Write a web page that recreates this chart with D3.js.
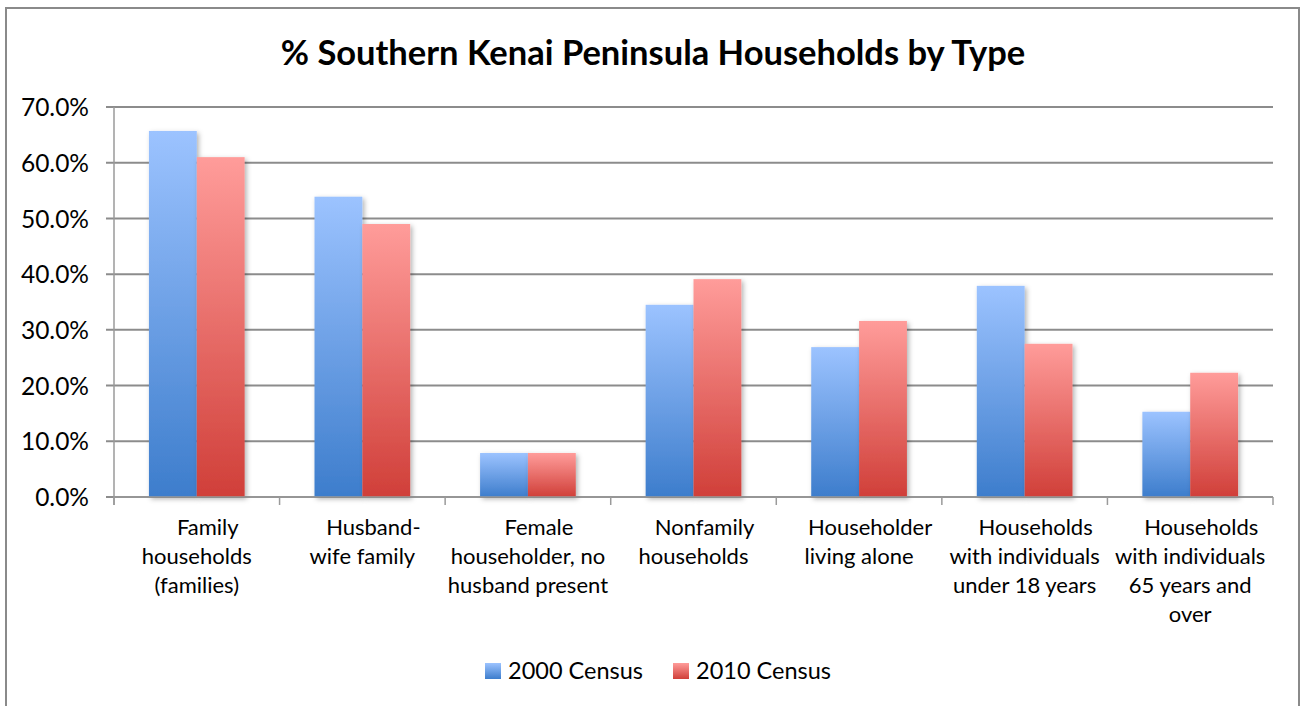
<!DOCTYPE html>
<html>
<head>
<meta charset="utf-8">
<script src="https://cdn.jsdelivr.net/npm/d3@7"></script>
<style>
  html, body { margin: 0; padding: 0; background: #fff; }
  svg { display: block; }
  text { font-family: Lato, "Open Sans", sans-serif; fill: #000; }
</style>
</head>
<body>
<svg id="chart" width="1300" height="706"></svg>
<script>
// Household type categories (each entry is a list of wrapped label lines)
const categories = [
  ["Family", "households", "(families)"],
  ["Husband-", "wife family"],
  ["Female", "householder, no", "husband present"],
  ["Nonfamily", "households"],
  ["Householder", "living alone"],
  ["Households", "with individuals", "under 18 years"],
  ["Households", "with individuals", "65 years and", "over"]
];
const seriesNames = ["2000 Census", "2010 Census"];
const census2000 = [65.7, 53.9, 7.9, 34.5, 26.9, 37.9, 15.3];
const census2010 = [61.0, 49.0, 7.9, 39.1, 31.6, 27.5, 22.3];
const yTicks = [0, 10, 20, 30, 40, 50, 60, 70];

const svg = d3.select("#chart");
const plot = { left: 114, right: 1273, top: 107, bottom: 497 };

// Gradients and drop shadow
const defs = svg.append("defs");
const grads = [
  { id: "g2000", top: "#9cc3ff", bottom: "#3d7dcc" },
  { id: "g2010", top: "#ff9c9a", bottom: "#d03f39" }
];
grads.forEach(g => {
  const lg = defs.append("linearGradient").attr("id", g.id)
    .attr("x1", 0).attr("y1", 0).attr("x2", 0).attr("y2", 1);
  lg.append("stop").attr("offset", "0%").attr("stop-color", g.top);
  lg.append("stop").attr("offset", "100%").attr("stop-color", g.bottom);
});
const f = defs.append("filter").attr("id", "shadow")
  .attr("x", "-20%").attr("y", "-20%").attr("width", "150%").attr("height", "150%");
f.append("feDropShadow").attr("dx", 2).attr("dy", 2).attr("stdDeviation", 2.5)
  .attr("flood-color", "#000").attr("flood-opacity", 0.3);

// Outer chart border
svg.append("rect").attr("x", 6).attr("y", 8).attr("width", 1293).attr("height", 720)
  .attr("fill", "none").attr("stroke", "#8a8a8a").attr("stroke-width", 2);

// Title
svg.append("text").attr("x", 653).attr("y", 65).attr("text-anchor", "middle")
  .style("font-weight", "bold").style("font-size", "34.5px")
  .text("% Southern Kenai Peninsula Households by Type");

// Scales
const y = d3.scaleLinear().domain([0, 70]).range([plot.bottom, plot.top]);
const x0 = d3.scaleBand().domain(d3.range(categories.length))
  .range([plot.left, plot.right]).paddingInner(0).paddingOuter(0);
const bw = x0.bandwidth();
const x1 = d3.scaleBand().domain([0, 1]).range([0, bw]).paddingInner(0).paddingOuter(0.73);

// Gridlines
svg.append("g").selectAll("line").data(yTicks).join("line")
  .attr("x1", plot.left - 8).attr("x2", plot.right)
  .attr("y1", d => y(d)).attr("y2", d => y(d))
  .attr("stroke", "#8c8c8c").attr("stroke-width", 2);

// Y axis labels
const yAxis = d3.axisLeft(y).tickValues(yTicks).tickSize(0).tickPadding(0)
  .tickFormat(d => d.toFixed(1) + "%");
const yg = svg.append("g").attr("transform", `translate(${plot.left - 25},0)`).call(yAxis);
yg.select(".domain").remove();
yg.selectAll("text").style("font-size", "24.5px").style("font-family", "Lato, sans-serif")
  .attr("fill", "#000").attr("dy", "0.35em");

// Y axis line
svg.append("line").attr("x1", plot.left).attr("x2", plot.left)
  .attr("y1", plot.top).attr("y2", plot.bottom + 8)
  .attr("stroke", "#9a9a9a").attr("stroke-width", 1.5);

// Bars
const series = [census2000, census2010];
const barG = svg.append("g");
categories.forEach((c, i) => {
  series.forEach((vals, s) => {
    barG.append("rect")
      .attr("x", x0(i) + x1(s))
      .attr("y", y(vals[i]))
      .attr("width", x1.bandwidth())
      .attr("height", y(0) - y(vals[i]))
      .attr("fill", `url(#${grads[s].id})`)
      .attr("filter", "url(#shadow)");
  });
});

// X axis line and category ticks
const xg = svg.append("g");
xg.append("line").attr("x1", plot.left).attr("x2", plot.right)
  .attr("y1", plot.bottom).attr("y2", plot.bottom)
  .attr("stroke", "#9a9a9a").attr("stroke-width", 1.5);
xg.selectAll("line.tick").data(d3.range(categories.length + 1)).join("line")
  .attr("class", "tick")
  .attr("x1", d => plot.left + d * bw).attr("x2", d => plot.left + d * bw)
  .attr("y1", plot.bottom).attr("y2", plot.bottom + 8)
  .attr("stroke", "#9a9a9a").attr("stroke-width", 1.5);

// Category labels: first wrapped line sits slightly right of centre
categories.forEach((lines, i) => {
  const t = svg.append("text").attr("text-anchor", "middle").style("font-size", "22px");
  lines.forEach((ln, k) => {
    const shift = (k === 0 && lines.length > 1) ? 11 : 0;
    t.append("tspan").attr("x", x0(i) + bw / 2 + shift).attr("y", 535 + k * 29).text(ln);
  });
});

// Legend
const legendItems = [
  { name: seriesNames[0], grad: "g2000", x: 485 },
  { name: seriesNames[1], grad: "g2010", x: 673 }
];
legendItems.forEach(it => {
  svg.append("rect").attr("x", it.x).attr("y", 663).attr("width", 16).attr("height", 16)
    .attr("fill", `url(#${it.grad})`);
  svg.append("text").attr("x", it.x + 23).attr("y", 679).style("font-size", "23.5px").text(it.name);
});
</script>
</body>
</html>
